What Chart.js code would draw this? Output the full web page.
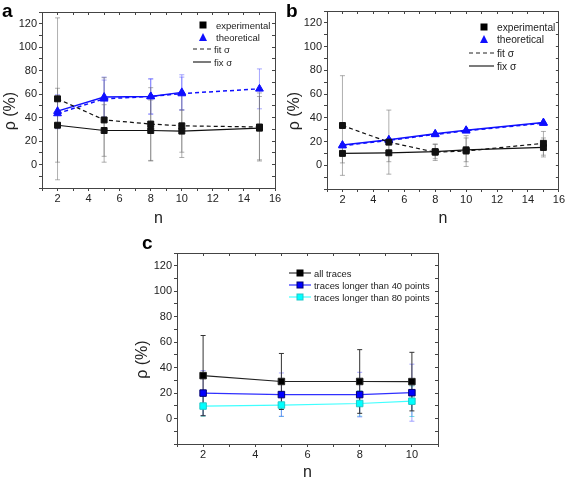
<!DOCTYPE html>
<html>
<head>
<meta charset="utf-8">
<script src="https://cdn.jsdelivr.net/npm/chart.js@4.4.1/dist/chart.umd.min.js"></script>
<style>
    body { margin: 0; background: #fff; font-family: "Liberation Sans", Arial, sans-serif; }
    #fig { position: relative; width: 566px; height: 482px; overflow: hidden; }
    .panel { position: absolute; }
    .tag { position: absolute; font-weight: bold; font-size: 19px; color: #000; line-height: 19px; }
    .leg { position: absolute; color: #222; white-space: nowrap; display: flex; align-items: center; height: 12px; }
    .leg svg { margin-right: 3px; }
</style>
</head>
<body>
<div id="fig">
    <div class="panel" style="left:0;top:0;width:283px;height:230px"><canvas id="chartA"></canvas></div>
    <div class="panel" style="left:284px;top:0;width:282px;height:230px"><canvas id="chartB"></canvas></div>
    <div class="panel" style="left:120px;top:230px;width:330px;height:252px"><canvas id="chartC"></canvas></div>
    <div class="tag" style="left:2px;top:1px">a</div>
    <div class="tag" style="left:286px;top:1px">b</div>
    <div class="tag" style="left:142px;top:233px">c</div>
</div>
<script>
// tick labels
const yMajor = [0, 20, 40, 60, 80, 100, 120];
const xMajorAB = [2, 4, 6, 8, 10, 12, 14, 16];
const xMajorC = [2, 4, 6, 8, 10];

// panel a
const nA = [2, 5, 8, 10, 15];
const nAfix = [2, 5, 8, 10];
const aExpFit = [56, 38, 34.5, 33, 32];
const aExpFitErr = [69, 36, 31, 27, 29];
const aExpFix = [33.5, 29, 29, 28.5, 31];
const aExpFixErr = [31.5, 22, 26, 18, 27];
const aTheoFit = [43.5, 56, 58, 60.5, 64.5];
const aTheoFitErr = [13, 16, 15, 14, 17];
const aTheoFix = [45.5, 57.5, 58, 61.5];
const aTheoFixErr = [14, 17, 15, 15];

// panel b
const nB = [2, 5, 8, 10, 15];
const bExpFit = [33.5, 19.5, 11, 12, 18.5];
const bExpFitErr = [42, 27, 7, 13, 10];
const bExpFix = [10, 10.5, 11.5, 13, 15];
const bExpFixErr = [8, 7.5, 6, 10, 8];
const bTheoFit = [16.5, 21, 26, 29, 35.5];
const bTheoFix = [17, 21.5, 26.5, 29.5, 36];

// panel c
const nC = [2, 5, 8, 10];
const cAll = [33.7, 29.1, 29.1, 29];
const cAllErr = [31.5, 22, 25, 23];
const c40 = [20, 18.8, 18.8, 20.3];
const c40Err = [17.6, 17, 17.5, 22.4];
const c80 = [9.8, 10.6, 11.8, 13.6];
const c80Err = [8, 9, 10, 12];

const FONT = '"Liberation Sans", Arial, sans-serif';
const FRAME = '#444';

function serie(xs, ys, color, dashed, marker, opts) {
    return Object.assign({
        data: xs.map((x, i) => ({ x: x, y: ys[i] })),
        borderColor: color,
        backgroundColor: color,
        borderWidth: 1.2,
        borderDash: dashed ? [4, 3] : [],
        pointStyle: marker,
        pointRadius: marker === 'triangle' ? 4.5 : 4.2,
        pointBorderWidth: 1,
        tension: 0,
        order: 0
    }, opts || {});
}

// error bars: two points per bar, a null point breaks the line
function errBars(xs, ys, es, color) {
    let d = [];
    xs.forEach((x, i) => {
        d.push({ x: x, y: ys[i] - es[i] }, { x: x, y: ys[i] + es[i] }, { x: x, y: null });
    });
    return {
        data: d,
        borderColor: color,
        backgroundColor: color,
        borderWidth: 1,
        pointStyle: 'line',
        pointRadius: 2.5,
        pointBorderColor: color,
        pointBorderWidth: 1,
        spanGaps: false,
        order: 1
    };
}

function escalas(xMax, xMajor, lay) {
    let tickFont = { family: FONT, size: 11 };
    return {
        x: {
            type: 'linear', position: 'bottom', min: 1, max: xMax,
            ticks: { stepSize: 1, autoSkip: false, maxRotation: 0, color: '#222', font: tickFont, padding: 1,
                callback: v => xMajor.includes(v) ? String(v) : '' },
            grid: { drawOnChartArea: false, tickLength: 3, color: FRAME },
            border: { color: FRAME, width: 1 },
            title: { display: true, text: 'n', color: '#222', font: { family: FONT, size: 16 }, padding: { top: 0, bottom: lay.nPad } },
            afterFit: s => { s.height = lay.xH; }
        },
        x2: {
            type: 'linear', position: 'top', min: 1, max: xMax,
            ticks: { stepSize: 1, autoSkip: false, display: false },
            grid: { drawOnChartArea: false, tickLength: -3, color: FRAME },
            border: { color: FRAME, width: 1 },
            afterFit: s => { s.height = 0; }
        },
        y: {
            type: 'linear', position: 'left', min: -20, max: 130,
            ticks: { stepSize: 10, autoSkip: false, color: '#222', font: tickFont, padding: 2,
                callback: v => yMajor.includes(v) ? String(v) : '' },
            grid: { drawOnChartArea: false, tickLength: 3, color: FRAME },
            border: { color: FRAME, width: 1 },
            title: { display: true, text: 'ρ (%)     ', color: '#222', font: { family: FONT, size: 16 }, padding: { top: lay.rhoPad, bottom: 0 } },
            afterFit: s => { s.width = lay.yW; }
        },
        y2: {
            type: 'linear', position: 'right', min: -20, max: 130,
            ticks: { stepSize: 10, autoSkip: false, display: false },
            grid: { drawOnChartArea: false, tickLength: -3, color: FRAME },
            border: { color: FRAME, width: 1 },
            afterFit: s => { s.width = 0; }
        }
    };
}

function crearGrafico(id, datasets, xMax, xMajor, lay) {
    return new Chart(document.getElementById(id), {
        type: 'line',
        data: { datasets: datasets },
        options: {
            responsive: true,
            maintainAspectRatio: false,
            animation: false,
            layout: { padding: { left: 0, top: lay.top, right: lay.right, bottom: 0 } },
            scales: escalas(xMax, xMajor, lay),
            plugins: { legend: { display: false }, tooltip: { enabled: false } }
        }
    });
}

const GRIS = 'rgba(110,110,110,0.55)';
const AZUL_E = 'rgba(80,80,255,0.5)';

crearGrafico('chartA', [
    serie(nA, aExpFit, '#111', true, 'rect'),
    serie(nA, aExpFix, '#111', false, 'rect'),
    serie(nA, aTheoFit, '#1010ff', true, 'triangle', { borderWidth: 1.5 }),
    serie(nAfix, aTheoFix, '#1010ff', false, 'triangle', { borderWidth: 1.5 }),
    errBars(nA, aExpFit, aExpFitErr, GRIS),
    errBars(nA, aExpFix, aExpFixErr, GRIS),
    errBars(nA, aTheoFit, aTheoFitErr, AZUL_E),
    errBars(nAfix, aTheoFix, aTheoFixErr, AZUL_E)
], 16, xMajorAB, { top: 12, right: 8, yW: 42, xH: 42, nPad: 2, rhoPad: 1 });

crearGrafico('chartB', [
    serie(nB, bExpFit, '#111', true, 'rect'),
    serie(nB, bExpFix, '#111', false, 'rect'),
    serie(nB, bTheoFit, '#1010ff', true, 'triangle', { borderWidth: 1.5 }),
    serie(nB, bTheoFix, '#1010ff', false, 'triangle', { borderWidth: 1.5 }),
    errBars(nB, bExpFit, bExpFitErr, GRIS),
    errBars(nB, bExpFix, bExpFixErr, GRIS)
], 16, xMajorAB, { top: 11, right: 4, yW: 43, xH: 41, nPad: 2, rhoPad: 1 });

crearGrafico('chartC', [
    serie(nC, cAll, '#222', false, 'rect', { pointRadius: 4.6, backgroundColor: '#000' }),
    serie(nC, c40, '#3030ff', false, 'rect', { pointRadius: 4.6, backgroundColor: '#0000ff', pointBorderColor: '#000070' }),
    serie(nC, c80, '#40ffff', false, 'rect', { pointRadius: 4.6, backgroundColor: '#00ffff', pointBorderColor: '#20c8c8' }),
    errBars(nC, cAll, cAllErr, '#333'),
    errBars(nC, c40, c40Err, 'rgba(90,90,255,0.55)'),
    errBars(nC, c80, c80Err, 'rgba(0,200,200,0.55)')
], 11, xMajorC, { top: 23, right: 12, yW: 57, xH: 38, nPad: 0, rhoPad: 13 });

// leyendas
function svgMarca(w, tipo, color, linea, dashed, borde) {
    let s = '<svg width="' + w + '" height="12">';
    if (linea) {
        s += '<line x1="0" y1="6" x2="' + w + '" y2="6" stroke="' + linea + '" stroke-width="1.2"' + (dashed ? ' stroke-dasharray="4,3"' : '') + '/>';
    }
    let cx = w / 2;
    if (tipo === 'rect') {
        s += '<rect x="' + (cx - 3) + '" y="3" width="6" height="6" fill="' + color + '" stroke="' + (borde || color) + '" stroke-width="1"/>';
    } else if (tipo === 'triangle') {
        s += '<polygon points="' + (cx - 4) + ',10 ' + (cx + 4) + ',10 ' + cx + ',2" fill="' + color + '"/>';
    }
    return s + '</svg>';
}
function agregarLeyenda(items, size) {
    let fig = document.getElementById('fig');
    items.forEach(it => {
        let d = document.createElement('div');
        d.className = 'leg';
        d.style.left = it.x + 'px';
        d.style.top = (it.y - 6) + 'px';
        d.style.fontSize = size + 'px';
        d.innerHTML = svgMarca(it.w, it.tipo, it.color, it.linea, it.dashed, it.borde) + '<span>' + it.texto + '</span>';
        fig.appendChild(d);
    });
}

agregarLeyenda([
    { x: 193, y: 25, w: 20, tipo: 'rect', color: '#000', texto: 'experimental' },
    { x: 193, y: 37, w: 20, tipo: 'triangle', color: '#1010ff', texto: 'theoretical' },
    { x: 193, y: 49, w: 18, linea: '#222', dashed: true, texto: 'fit σ' },
    { x: 193, y: 62, w: 18, linea: '#222', texto: 'fix σ' }
], 9.5);
agregarLeyenda([
    { x: 474, y: 27, w: 20, tipo: 'rect', color: '#000', texto: 'experimental' },
    { x: 474, y: 39, w: 20, tipo: 'triangle', color: '#1010ff', texto: 'theoretical' },
    { x: 469, y: 53, w: 25, linea: '#222', dashed: true, texto: 'fit σ' },
    { x: 469, y: 66, w: 25, linea: '#222', texto: 'fix σ' }
], 10.2);
agregarLeyenda([
    { x: 289, y: 273, w: 22, tipo: 'rect', color: '#000', linea: '#333', texto: 'all traces' },
    { x: 289, y: 285, w: 22, tipo: 'rect', color: '#0000ff', borde: '#000070', linea: '#3030ff', texto: 'traces longer than 40 points' },
    { x: 289, y: 297, w: 22, tipo: 'rect', color: '#00ffff', borde: '#20c8c8', linea: '#40ffff', texto: 'traces longer than 80 points' }
], 9.4);
</script>
</body>
</html>
